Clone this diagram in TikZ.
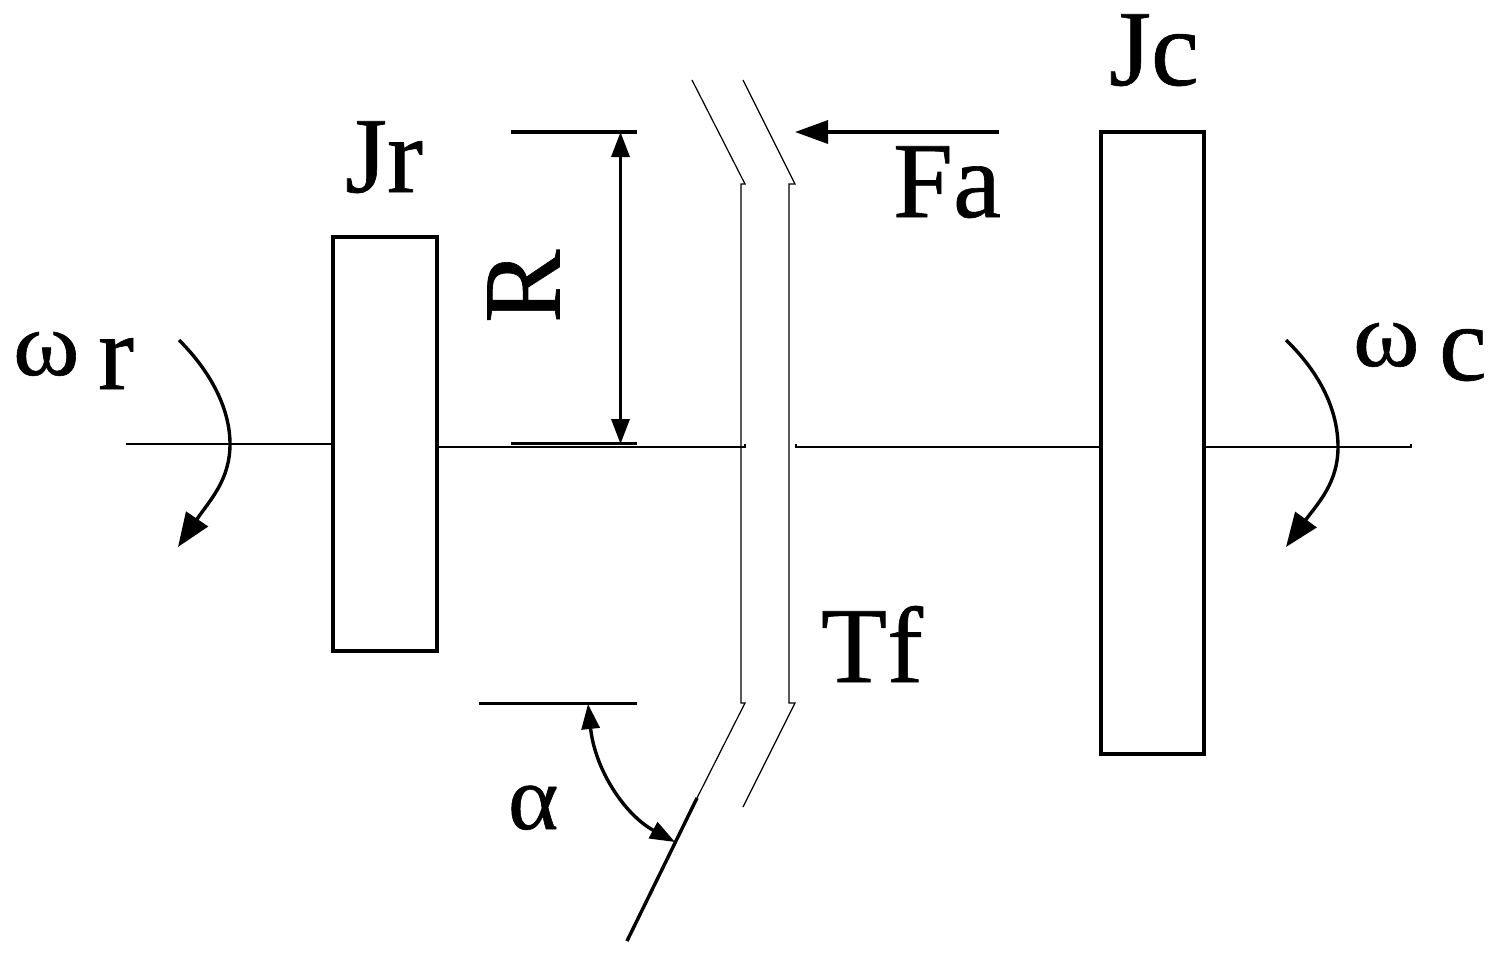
\documentclass[tikz,border=0pt]{standalone}
\usepackage{fontspec}
\setmainfont[FakeBold=0.6]{Liberation Serif}
\usetikzlibrary{arrows.meta}
\tikzset{
  thinline/.style={line width=1.2pt,line cap=butt},
  thickline/.style={line width=3.4pt},
  mass/.style={draw,line width=3.6pt,inner sep=0pt,outer sep=0pt,minimum width=103.5pt},
  biglabel/.style={anchor=base west,inner sep=0pt,outer sep=0pt,font=\fontsize{108}{108}\selectfont},
  greeklabel/.style={anchor=base west,inner sep=0pt,outer sep=0pt,xscale=1.1,font=\fontsize{92}{92}\selectfont},
  bigtip/.style={-{Triangle[length=33pt,width=23pt]}},
  turntip/.style={-{Triangle[length=34pt,width=26pt]}},
  smalltips/.style={{Triangle[length=25pt,width=18pt]}-{Triangle[length=25pt,width=18pt]}}
}
\begin{document}
\begin{tikzpicture}[x=1pt,y=-1pt]
\useasboundingbox (0,0) rectangle (1491,954);
% masses
\node[mass,minimum height=414pt] (jr) at (385,444) {};
\node[mass,minimum height=622pt] (jc) at (1152.5,443) {};
% shaft
\coordinate (la) at (126,444);
\coordinate (lb) at (745,447);
\coordinate (rb) at (796,447);
\coordinate (rc) at (1411,447);
\draw[thinline] (la) -- (la -| jr.west);
\draw[thinline] (lb |- 0,444) -- (lb) -- (lb -| jr.east);
\draw[thinline] (rb |- 0,444) -- (rb) -- (rb -| jc.west);
\draw[thinline] (jc.east |- rc) -- (rc) -- (rc |- 0,444);
% left plate
\coordinate (p1a) at (692,80);
\coordinate (p1b) at (745,184);
\coordinate (p1c) at (741,184);
\coordinate (p1d) at (741,703);
\coordinate (p1e) at (745,703);
\coordinate (p1f) at (697,798);
\coordinate (p1g) at (627,941);
\draw[thinline] (p1a) -- (p1b) -- (p1c) -- (p1d) -- (p1e) -- (p1f);
\draw[thickline] (p1f) -- (p1g);
% right plate
\coordinate (p2a) at (743,80);
\coordinate (p2b) at (795,184);
\coordinate (p2c) at (789,184);
\coordinate (p2d) at (789,703);
\coordinate (p2e) at (795,703);
\coordinate (p2f) at (743,807);
\draw[thinline] (p2a) -- (p2b) -- (p2c) -- (p2d) -- (p2e) -- (p2f);
% radius dimension
\coordinate (ra) at (511,132);
\coordinate (rd) at (637,132);
\coordinate (re) at (511,443.5);
\coordinate (rf) at (637,443.5);
\coordinate (rg) at (620.5,132);
\coordinate (rh) at (620.5,444);
\draw[thickline] (ra) -- (rd);
\draw[thickline] (re) -- (rf);
\draw[thickline,smalltips] (rg) -- (rh);
% axial force
\coordinate (fa1) at (999,132);
\coordinate (fa2) at (795,132);
\draw[thickline,bigtip] (fa1) -- (fa2);
% angle
\coordinate (aa) at (479,703.5);
\coordinate (ab) at (637,703.5);
\coordinate (ac) at (588,704);
\coordinate (ad) at (675,842);
\draw[thickline] (aa) -- (ab);
\draw[thickline,smalltips] (ac) .. controls (595,770) and (625,815) .. (ad);
% rotation arrows
\coordinate (w1a) at (179,340);
\coordinate (w1b) at (230,444);
\coordinate (w1c) at (178,547);
\draw[thickline,turntip] (w1a) .. controls (212,373) and (230,410) .. (w1b) .. controls (230,480) and (210,500) .. (w1c);
\coordinate (w2a) at (1286,340);
\coordinate (w2b) at (1338,447);
\coordinate (w2c) at (1286,547);
\draw[thickline,turntip] (w2a) .. controls (1320,373) and (1338,410) .. (w2b) .. controls (1338,483) and (1318,503) .. (w2c);
% labels
\node[biglabel] (tjr) at (345,192) {Jr};
\node[biglabel] (tjc) at (1109,85) {Jc};
\node[biglabel] (tfa) at (893,217) {Fa};
\node[biglabel] (ttf) at (821,682) {Tf};
\node[biglabel,rotate=90,font=\fontsize{110}{110}\selectfont] (tr) at (559.5,323) {R};
\node[greeklabel] (tw1) at (13,375) {ω};
\node[biglabel] (tw1r) at (98,389) {r};
\node[greeklabel] (tw2) at (1353,366) {ω};
\node[biglabel] (tw2c) at (1439,380) {c};
\node[greeklabel,xscale=0.95] (tal) at (508,829) {α};
\end{tikzpicture}
\end{document}
